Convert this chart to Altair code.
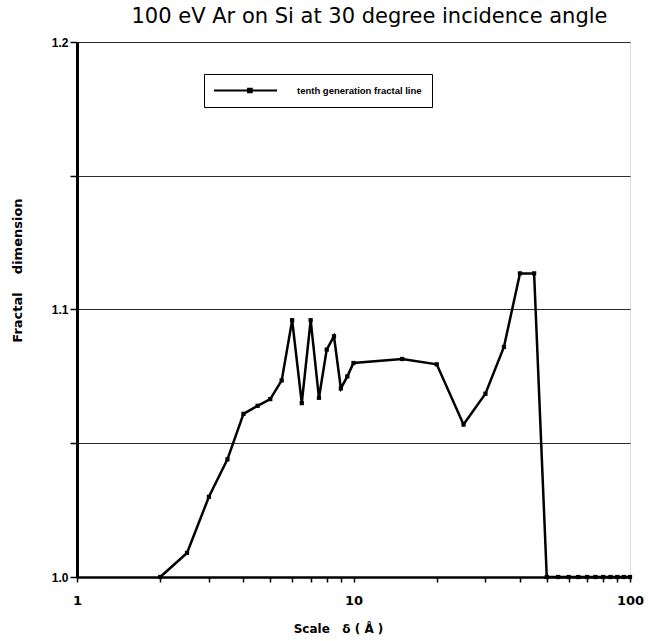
import altair as alt
import pandas as pd

# Scale δ (Å) and the fractal dimension measured at that scale
scale_a = [2, 2.5, 3, 3.5, 4, 4.5, 5, 5.5, 6, 6.5, 7, 7.5, 8, 8.5, 9, 9.5, 10,
           15, 20, 25, 30, 35, 40, 45, 50, 55, 60, 65, 70, 75, 80, 85, 90, 95, 100]
fractal_dim = [1.000, 1.009, 1.030, 1.044, 1.061, 1.064, 1.0665, 1.0735, 1.096, 1.065,
               1.096, 1.067, 1.085, 1.090, 1.0705, 1.075, 1.080,
               1.0815, 1.0795, 1.057, 1.0685, 1.086, 1.1135, 1.1135, 1.000, 1.000,
               1.000, 1.000, 1.000, 1.000, 1.000, 1.000, 1.000, 1.000, 1.000]
series_name = "tenth generation fractal line"

x_ticks = [1, 2, 3, 4, 5, 6, 7, 8, 9, 10, 20, 30, 40, 50, 60, 70, 80, 90, 100]
y_ticks = [1.0, 1.05, 1.1, 1.15, 1.2]

df = pd.DataFrame({"scale": scale_a, "dim": fractal_dim, "series": series_name})

nb = "\u00a0"
x_enc = alt.X(
    "scale:Q",
    scale=alt.Scale(type="log", domain=[1, 100], nice=False),
    axis=alt.Axis(
        values=x_ticks,
        labelExpr="indexof([1, 10, 100], datum.value) >= 0 ? format(datum.value, 'd') : ''",
        labelFlush=False,
        labelOverlap=False,
        labelFont="DejaVu Sans",
        labelFontWeight="bold",
        labelFontSize=13,
        labelPadding=12,
        tickSize=5,
        tickWidth=1.5,
        tickColor="black",
        domainColor="black",
        domainWidth=2.5,
        grid=False,
        title=f"Scale{nb*3}δ{nb}({nb}Å{nb})",
        titleFont="DejaVu Sans",
        titleFontWeight="bold",
        titleFontSize=12,
        titleX=261,
        titleY=55,
        titleBaseline="alphabetic",
        titleAnchor=None,
    ),
)
y_enc = alt.Y(
    "dim:Q",
    scale=alt.Scale(domain=[1.0, 1.2], nice=False, zero=False),
    axis=alt.Axis(
        values=y_ticks,
        labelExpr="round(datum.value * 100) % 10 == 0 ? format(datum.value, '.1f') : ''",
        labelFont="Liberation Sans",
        labelFontWeight="bold",
        labelFontSize=12,
        labelPadding=2,
        tickSize=7,
        tickWidth=1.5,
        tickColor="black",
        domainColor="black",
        domainWidth=3,
        grid=True,
        gridColor="#2a2a2a",
        gridWidth=1,
        title=f"Fractal{nb*4}dimension",
        titleFont="DejaVu Sans",
        titleFontWeight="bold",
        titleFontSize=13,
        titleAngle=270,
        titleX=-60,
        titleY=228,
        titleAlign="center",
        titleBaseline="middle",
    ),
)

line = alt.Chart(df).mark_line(color="black", strokeWidth=2.5).encode(x=x_enc, y=y_enc)

# legend symbol: a short line with a square marker on it
legend_symbol = "M-1,-0.035H1V0.035H-1Z M0.05,-0.09H0.23V0.09H0.05Z"

points = alt.Chart(df).mark_point(shape="square", filled=True, size=18, opacity=1).encode(
    x=alt.X("scale:Q"),
    y=alt.Y("dim:Q"),
    color=alt.Color(
        "series:N",
        scale=alt.Scale(range=["black"]),
        legend=alt.Legend(
            title=None,
            orient="none",
            legendX=127,
            legendY=32,
            symbolType=legend_symbol,
            symbolSize=3969,
            symbolStrokeWidth=0,
            clipHeight=13,
            labelFont="Liberation Sans",
            labelFontWeight="bold",
            labelFontSize=9.5,
            labelOffset=20,
            padding=10,
            strokeColor="black",
        ),
    ),
)

chart = (
    alt.layer(line, points)
    .properties(
        width=553,
        height=535,
        autosize=alt.AutoSizeParams(type="none"),
        padding={"left": 77, "top": 42, "right": 19, "bottom": 64},
        title=alt.TitleParams(
            "100 eV Ar on Si at 30 degree incidence angle",
            font="DejaVu Sans",
            fontSize=21,
            fontWeight="normal",
            anchor="middle",
            frame="group",
            baseline="alphabetic",
            offset=17,
            dx=16,
            dy=25,
            color="black",
        ),
    )
    .configure_view(stroke="black", strokeWidth=1.5)
    .configure_legend(strokeWidth=2)
    .configure(background="white")
)

chart.save("out.html", embed_options={"renderer": "svg", "actions": False})
